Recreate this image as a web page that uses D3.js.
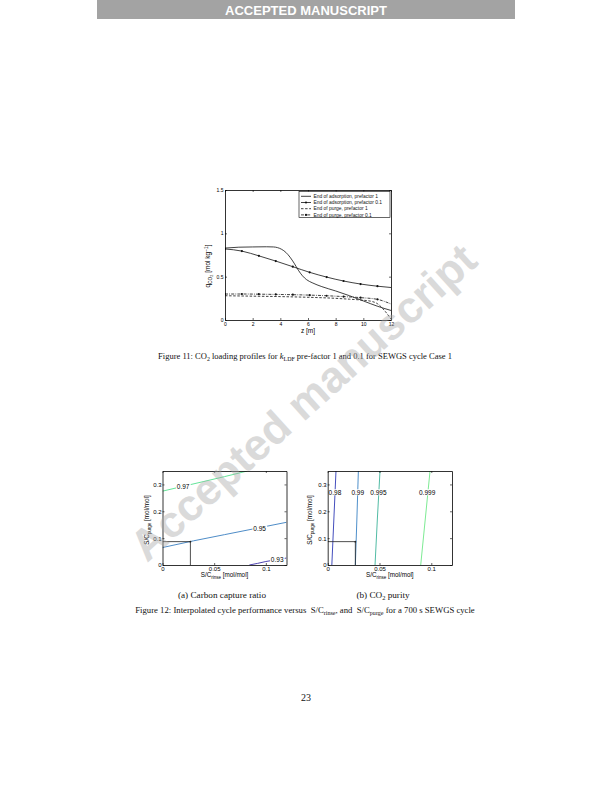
<!DOCTYPE html>
<html><head><meta charset="utf-8">
<script src="https://cdn.jsdelivr.net/npm/d3@7"></script>
<style>body{margin:0;background:#fff}svg{display:block}</style>
</head><body>
<script>
// ---------- Figure 11 data ----------
const zTicks = [0, 2, 4, 6, 8, 10, 12];
const qTicks = [0, 0.5, 1, 1.5];
const zAds1 = [0, 1, 2, 3, 3.5, 3.8, 4.1, 4.4, 4.7, 5.0, 5.3, 5.6, 5.9, 6.3, 7, 8, 9, 10, 11, 12];
const qAds1 = [0.83, 0.84, 0.843, 0.845, 0.843, 0.835, 0.815, 0.78, 0.725, 0.655, 0.575, 0.51, 0.465, 0.43, 0.385, 0.335, 0.28, 0.22, 0.16, 0.11];
const zAds01 = [0, 1.22, 2.45, 3.67, 4.9, 6.12, 7.35, 8.57, 9.8, 11.02, 12];
const qAds01 = [0.82, 0.795, 0.74, 0.68, 0.615, 0.55, 0.495, 0.45, 0.415, 0.39, 0.375];
const zPur1 = [0, 2, 4, 6, 8, 9, 10, 10.5, 11, 11.5, 12];
const qPur1 = [0.28, 0.275, 0.27, 0.262, 0.25, 0.24, 0.228, 0.218, 0.19, 0.115, 0.01];
const zPur01 = [0, 1.22, 2.45, 3.67, 4.9, 6.12, 7.35, 8.57, 9.8, 11.02, 12];
const qPur01 = [0.3, 0.3, 0.298, 0.295, 0.292, 0.287, 0.28, 0.27, 0.258, 0.238, 0.185];
const legendLabels = ["End of adsorption, prefactor 1", "End of adsorption, prefactor 0.1", "End of purge, prefactor 1", "End of purge, prefactor 0.1"];

// ---------- Figure 12 data ----------
const rinseTicks = [0, 0.05, 0.1];
const purgeTicks = [0, 0.1, 0.2, 0.3];
const capLevels = ["0.97", "0.95", "0.93"];
const cap097x = [0, 0.02, 0.04, 0.06, 0.082];
const cap097y = [0.275, 0.293, 0.311, 0.329, 0.35];
const cap095x = [0, 0.03, 0.06, 0.09, 0.12];
const cap095y = [0.065, 0.09, 0.113, 0.136, 0.159];
const cap093x = [0.084, 0.092, 0.1, 0.11, 0.12];
const cap093y = [0, 0.006, 0.013, 0.019, 0.026];
const capLabelX = [0.02, 0.094, 0.111];
const capLabelY = [0.2915, 0.136, 0.0186];
const purLevels = ["0.98", "0.99", "0.995", "0.999"];
const pur098x = [0.004, 0.006, 0.008];
const pur099x = [0.0267, 0.0282, 0.0296];
const pur0995x = [0.0457, 0.048, 0.0505];
const pur0999x = [0.0898, 0.0943, 0.0988];
const purLineY = [0, 0.175, 0.35];
const purLabelX = [0.007, 0.029, 0.049, 0.096];
const purLabelY = [0.27, 0.27, 0.27, 0.27];
const refRinse = 0.027, refPurge = 0.087;

// ---------- drawing ----------
const W = 612, H = 792;
const SANS = "Liberation Sans, Arial, Helvetica, sans-serif";
const SERIF = "Liberation Serif, Times New Roman, serif";
const svg = d3.select("body").append("svg").attr("width", W).attr("height", H);
svg.append("rect").attr("width", W).attr("height", H).attr("fill", "#fff");

// header
svg.append("rect").attr("x", 97).attr("y", 0).attr("width", 418).attr("height", 19).attr("fill", "#a3a3a3");
svg.append("text").attr("x", 306).attr("y", 15).attr("text-anchor", "middle")
  .attr("font-family", SANS).attr("font-weight", "bold").attr("font-size", 13)
  .attr("fill", "#fff").text("ACCEPTED MANUSCRIPT");

function styleAxis(sel, fs, showLabels) {
  sel.attr("font-family", SANS).attr("font-size", fs);
  sel.select(".domain").attr("stroke", "#000").attr("stroke-width", 0.8);
  sel.selectAll(".tick line").attr("stroke", "#000").attr("stroke-width", 0.6);
  sel.selectAll(".tick text").attr("fill", "#000");
  if (!showLabels) sel.selectAll(".tick text").remove();
}

// ---------- Figure 11 ----------
{
  const x = d3.scaleLinear().domain([0, 12]).range([225, 391]);
  const y = d3.scaleLinear().domain([0, 1.5]).range([320, 190]);
  const g = svg.append("g");
  const line = d3.line().x(d => x(d[0])).y(d => y(d[1])).curve(d3.curveMonotoneX);
  const zip = (a, b) => a.map((v, i) => [v, b[i]]);
  const series = [
    {d: zip(zAds1, qAds1), dash: null, marker: false},
    {d: zip(zAds01, qAds01), dash: null, marker: true},
    {d: zip(zPur1, qPur1), dash: "2.5,1.6", marker: false},
    {d: zip(zPur01, qPur01), dash: "3,1.2,0.8,1.2", marker: true}
  ];
  g.append("clipPath").attr("id", "c11").append("rect")
    .attr("x", 225).attr("y", 190).attr("width", 166).attr("height", 130);
  const pg = g.append("g").attr("clip-path", "url(#c11)");
  series.forEach(s => {
    pg.append("path").attr("d", line(s.d)).attr("fill", "none").attr("stroke", "#111")
      .attr("stroke-width", 0.8).attr("stroke-dasharray", s.dash);
    if (s.marker) pg.selectAll(null).data(s.d.slice(0, -1)).enter().append("circle")
      .attr("cx", d => x(d[0])).attr("cy", d => y(d[1])).attr("r", 1.1).attr("fill", "#111");
  });
  g.append("g").attr("transform", "translate(0,320)")
    .call(d3.axisBottom(x).tickValues(zTicks).tickSize(-2).tickSizeOuter(0).tickPadding(2.5).tickFormat(d3.format("d")))
    .call(s => styleAxis(s, 5, true));
  g.append("g").attr("transform", "translate(0,190)")
    .call(d3.axisTop(x).tickValues(zTicks).tickSize(-2).tickSizeOuter(0))
    .call(s => styleAxis(s, 5, false));
  g.append("g").attr("transform", "translate(225,0)")
    .call(d3.axisLeft(y).tickValues(qTicks).tickSize(-2).tickSizeOuter(0).tickPadding(1.5).tickFormat(d => String(d)))
    .call(s => styleAxis(s, 5, true));
  g.append("g").attr("transform", "translate(391,0)")
    .call(d3.axisRight(y).tickValues(qTicks).tickSize(-2).tickSizeOuter(0))
    .call(s => styleAxis(s, 5, false));
  // axis labels
  g.append("text").attr("x", 308).attr("y", 333).attr("text-anchor", "middle")
    .attr("font-family", SANS).attr("font-size", 6.5).text("z [m]");
  const yl = g.append("text").attr("transform", "translate(210,266) rotate(-90)").attr("text-anchor", "middle")
    .attr("font-family", SANS).attr("font-size", 6.5);
  yl.append("tspan").text("q");
  yl.append("tspan").attr("font-size", 4.8).attr("dy", 1.8).text("CO");
  yl.append("tspan").attr("font-size", 3.8).attr("dy", 1.2).text("2");
  yl.append("tspan").attr("dy", -3).text(" [mol kg");
  yl.append("tspan").attr("font-size", 4.8).attr("dy", -2.5).text("−1");
  yl.append("tspan").attr("dy", 2.5).text("]");
  // legend
  const lg = g.append("g");
  lg.append("rect").attr("x", 299).attr("y", 191.5).attr("width", 91).attr("height", 26)
    .attr("fill", "#fff").attr("stroke", "#000").attr("stroke-width", 0.6);
  legendLabels.forEach((t, i) => {
    const yy = 196.3 + i * 6.2;
    const s = series[i];
    lg.append("line").attr("x1", 301).attr("x2", 311).attr("y1", yy).attr("y2", yy)
      .attr("stroke", "#111").attr("stroke-width", 0.8).attr("stroke-dasharray", s.dash);
    if (s.marker) lg.append("circle").attr("cx", 306).attr("cy", yy).attr("r", 1.1).attr("fill", "#111");
    lg.append("text").attr("x", 313.5).attr("y", yy + 1.7).attr("font-family", SANS)
      .attr("font-size", 4.9).attr("fill", "#111").text(t);
  });
}

// ---------- Figure 12 ----------
function contourPlot(left, right, top, bottom, lines, labels, colors, label, ylx, id) {
  const x = d3.scaleLinear().domain([0, 0.12]).range([left, right]);
  const y = d3.scaleLinear().domain([0, 0.35]).range([bottom, top]);
  const g = svg.append("g");
  g.append("clipPath").attr("id", id).append("rect")
    .attr("x", left).attr("y", top).attr("width", right - left).attr("height", bottom - top);
  const pg = g.append("g").attr("clip-path", `url(#${id})`);
  const line = d3.line().x(d => x(d[0])).y(d => y(d[1])).curve(d3.curveMonotoneY);
  const line2 = d3.line().x(d => x(d[0])).y(d => y(d[1])).curve(d3.curveMonotoneX);
  lines.forEach((l, i) => {
    pg.append("path").attr("d", (l.vertical ? line : line2)(l.pts)).attr("fill", "none")
      .attr("stroke", colors[i]).attr("stroke-width", 0.9);
  });
  labels.forEach(lb => {
    const t = pg.append("text").attr("x", x(lb.x)).attr("y", y(lb.y)).attr("dy", "0.35em")
      .attr("text-anchor", "middle").attr("font-family", SANS).attr("font-size", 6.5)
      .attr("fill", "#000").text(lb.t);
    const bb = t.node().getBBox();
    pg.insert("rect", "text").attr("x", bb.x - 0.8).attr("y", bb.y + 0.5)
      .attr("width", bb.width + 1.6).attr("height", bb.height - 1).attr("fill", "#fff");
  });
  // reference point box
  pg.append("path").attr("d", d3.line()([[x(0), y(refPurge)], [x(label.ref), y(refPurge)], [x(label.ref), y(0)]]))
    .attr("fill", "none").attr("stroke", "#222").attr("stroke-width", 0.8);
  pg.append("circle").attr("cx", x(label.ref)).attr("cy", y(refPurge)).attr("r", 0.9).attr("fill", "#222");
  // axes
  g.append("g").attr("transform", `translate(0,${bottom})`)
    .call(d3.axisBottom(x).tickValues(rinseTicks).tickSize(-2).tickSizeOuter(0).tickPadding(1.5).tickFormat(d => String(d)))
    .call(s => styleAxis(s, 6, true));
  g.append("g").attr("transform", `translate(0,${top})`)
    .call(d3.axisTop(x).tickValues(rinseTicks).tickSize(-2).tickSizeOuter(0))
    .call(s => styleAxis(s, 6, false));
  g.append("g").attr("transform", `translate(${left},0)`)
    .call(d3.axisLeft(y).tickValues(purgeTicks).tickSize(-2).tickSizeOuter(0).tickPadding(1).tickFormat(d => String(d)))
    .call(s => styleAxis(s, 6, true));
  g.append("g").attr("transform", `translate(${right},0)`)
    .call(d3.axisRight(y).tickValues(purgeTicks).tickSize(-2).tickSizeOuter(0))
    .call(s => styleAxis(s, 6, false));
  // axis labels
  const xl = g.append("text").attr("x", (left + right) / 2).attr("y", bottom + 12).attr("text-anchor", "middle")
    .attr("font-family", SANS).attr("font-size", 6.3);
  xl.append("tspan").text("S/C");
  xl.append("tspan").attr("font-size", 4.5).attr("dy", 1.8).text("rinse");
  xl.append("tspan").attr("dy", -1.8).text(" [mol/mol]");
  const yl = g.append("text").attr("transform", `translate(${ylx},${(top + bottom) / 2 + 2}) rotate(-90)`)
    .attr("text-anchor", "middle").attr("font-family", SANS).attr("font-size", 6.3);
  yl.append("tspan").text("S/C");
  yl.append("tspan").attr("font-size", 4.5).attr("dy", 1.8).text("purge");
  yl.append("tspan").attr("dy", -1.8).text(" [mol/mol]");
}

const zipXY = (a, b) => a.map((v, i) => [v, b[i]]);
contourPlot(162.5, 286.5, 471, 565,
  [{pts: zipXY(cap097x, cap097y)}, {pts: zipXY(cap095x, cap095y)}, {pts: zipXY(cap093x, cap093y)}],
  capLevels.map((t, i) => ({t, x: capLabelX[i], y: capLabelY[i]})),
  ["#52e08c", "#3a7fc1", "#3b2fa8"], {ref: refRinse}, 149, "c12a");
contourPlot(327.7, 452, 471, 565,
  [pur098x, pur099x, pur0995x, pur0999x].map(a => ({vertical: true, pts: zipXY(a, purLineY)})),
  purLevels.map((t, i) => ({t, x: purLabelX[i], y: purLabelY[i]})),
  ["#2f3ab5", "#3a82c4", "#3db39a", "#6ee887"], {ref: 0.0267}, 312, "c12b");

// ---------- captions ----------
function caption(xc, yb, fs, parts) {
  const t = svg.append("text").attr("x", xc).attr("y", yb).attr("text-anchor", "middle")
    .attr("font-family", SERIF).attr("font-size", fs).attr("fill", "#111")
    .style("white-space", "pre");
  parts.forEach(p => {
    const ts = t.append("tspan").text(p.t);
    if (p.sub) ts.attr("font-size", fs * 0.7).attr("dy", fs * 0.25);
    if (p.back) ts.attr("dy", -fs * 0.25);
    if (p.it) ts.attr("font-style", "italic");
  });
}
caption(305, 359, 8.5, [{t: "Figure 11: CO"}, {t: "2", sub: true}, {t: " loading profiles for ", back: true},
  {t: "k", it: true}, {t: "LDF", sub: true}, {t: " pre-factor 1 and 0.1 for SEWGS cycle Case 1", back: true}]);
caption(222, 598, 9.2, [{t: "(a) Carbon capture ratio"}]);
caption(383, 598, 9.2, [{t: "(b) CO"}, {t: "2", sub: true}, {t: " purity", back: true}]);
caption(305, 613, 8.7, [{t: "Figure 12: Interpolated cycle performance versus \u00a0S/C"}, {t: "rinse", sub: true},
  {t: ", and \u00a0S/C", back: true}, {t: "purge", sub: true}, {t: " for a 700 s SEWGS cycle", back: true}]);
caption(306, 701, 10, [{t: "23"}]);

// ---------- watermark ----------
svg.append("text").attr("transform", "translate(303,402) rotate(-42)").attr("text-anchor", "middle")
  .attr("dy", "0.35em").attr("font-family", SANS).attr("font-weight", "bold").attr("font-size", 44)
  .attr("fill", "#a8a8a8").attr("opacity", 0.42).text("Accepted manuscript");
</script>
</body></html>
